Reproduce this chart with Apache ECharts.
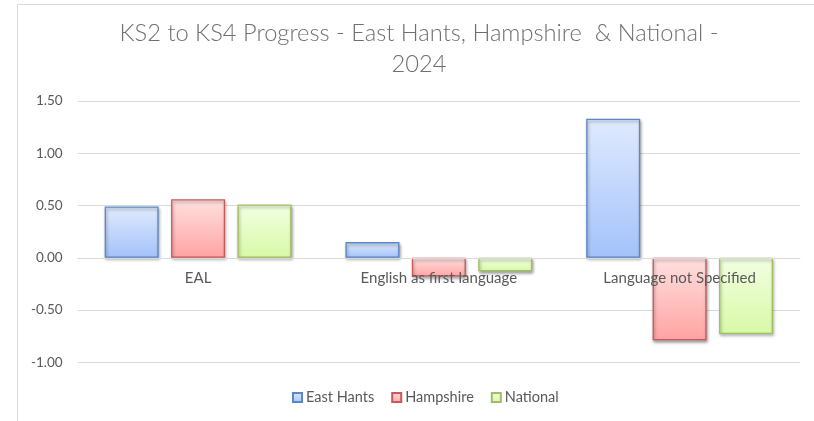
<!DOCTYPE html>
<html><head><meta charset="utf-8">
<script src="https://cdn.jsdelivr.net/npm/echarts@6/dist/echarts.min.js"></script>
<style>html,body{margin:0;padding:0;background:#fff}#c{width:814px;height:421px}</style>
</head><body><div id="c"></div>
<script>
const categories = ["EAL", "English as first language", "Language not Specified"];
const eastHants = [0.49, 0.15, 1.33];
const hampshire = [0.56, -0.18, -0.79];
const national = [0.51, -0.13, -0.73];
const seriesNames = ["East Hants", "Hampshire", "National"];
const yTicks = { min: -1, max: 1.5, interval: 0.5 };
const titleText = "KS2 to KS4 Progress - East Hants, Hampshire  & National -\n2024";

const FONT = "Lato";
const palette = [
  { top: "#e0eafe", bottom: "#a3c2fa", border: "#5b87c5" },
  { top: "#ffe0e0", bottom: "#ffa3a3", border: "#c95955" },
  { top: "#f2ffe2", bottom: "#d8f9a6", border: "#a0bf62" }
];
function grad(p) {
  return new echarts.graphic.LinearGradient(0, 0, 0, 1, [
    { offset: 0, color: p.top }, { offset: 1, color: p.bottom }
  ]);
}
function mk(name, data, i) {
  return {
    name: name, type: "bar", data: data,
    barWidth: 54, barGap: "23%",
    itemStyle: {
      color: grad(palette[i]), borderColor: palette[i].border, borderWidth: 1.3,
      shadowColor: "rgba(0,0,0,0.35)", shadowBlur: 3, shadowOffsetY: 2, shadowOffsetX: 1
    },
    emphasis: { disabled: true }
  };
}
const chart = echarts.init(document.getElementById("c"), null, { renderer: "canvas" });
chart.setOption({
  animation: false,
  backgroundColor: "#fff",
  textStyle: { fontFamily: FONT },
  graphic: [{
    type: "rect", shape: { x: 17.5, y: 4.5, width: 900, height: 500 },
    style: { fill: "none", stroke: "#d9d9d9", lineWidth: 1 }, z: -1, silent: true
  }, {
    type: "text", x: 419, y: 18, silent: true,
    style: { text: titleText, align: "center", verticalAlign: "top",
      fontFamily: FONT, fontWeight: 300, fontSize: 23.7, fill: "#6f6f6f", lineHeight: 31 }
  }],
  legend: {
    data: seriesNames, bottom: 11, left: 287,
    itemWidth: 9, itemHeight: 9, itemGap: 17,
    textStyle: { fontFamily: FONT, fontSize: 14.5, color: "#595959", padding: [0, 0, 0, -1] },
    icon: "rect"
  },
  grid: { left: 77.7, right: 14, top: 101, bottom: 58.7 },
  xAxis: {
    type: "category", data: categories,
    position: "bottom", offset: -104.3,
    axisLine: { onZero: false, lineStyle: { color: "#d9d9d9" } },
    axisTick: { show: false },
    axisLabel: { margin: 13, fontFamily: FONT, fontSize: 15, color: "#595959" },
    z: 5
  },
  yAxis: {
    type: "value", min: yTicks.min, max: yTicks.max, interval: yTicks.interval,
    axisLine: { show: false }, axisTick: { show: false },
    splitLine: { lineStyle: { color: "#d9d9d9", width: 1 } },
    axisLabel: { margin: 15, fontFamily: FONT, fontSize: 13.5, color: "#595959",
      formatter: v => v.toFixed(2) }
  },
  series: [mk(seriesNames[0], eastHants, 0), mk(seriesNames[1], hampshire, 1), mk(seriesNames[2], national, 2)]
});
</script></body></html>
